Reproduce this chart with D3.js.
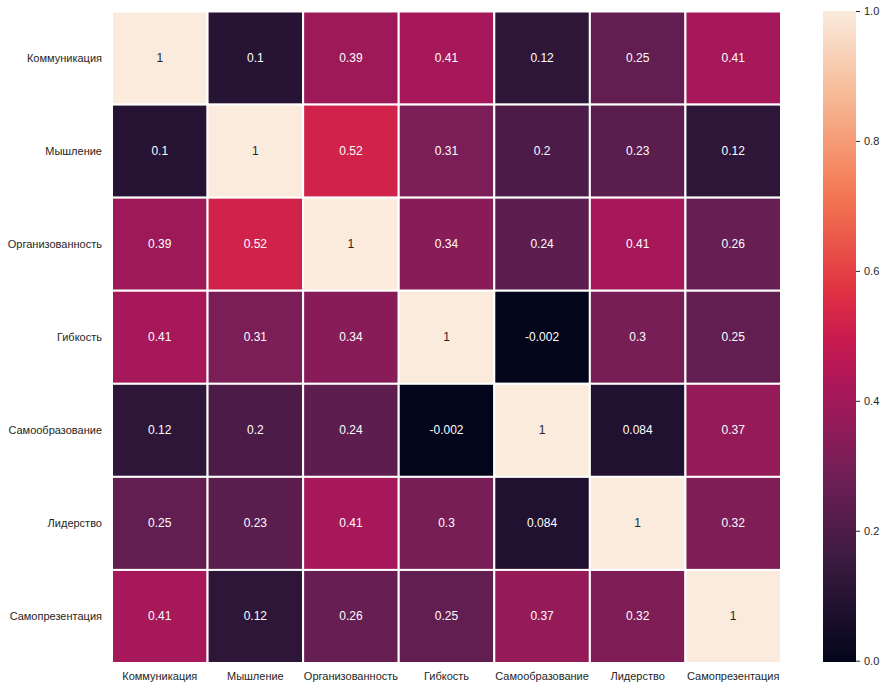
<!DOCTYPE html>
<html><head><meta charset="utf-8">
<script src="https://cdn.jsdelivr.net/npm/d3@7"></script>
<style>body{margin:0;background:#fff}svg{display:block}text{font-family:"Liberation Sans",Arial,sans-serif;}</style>
</head><body><svg id="c" width="887" height="690"></svg>
<script>
const categories = ["Коммуникация","Мышление","Организованность","Гибкость","Самообразование","Лидерство","Самопрезентация"];
const rowКоммуникация     = [1, 0.1, 0.39, 0.41, 0.12, 0.25, 0.41];
const rowМышление         = [0.1, 1, 0.52, 0.31, 0.2, 0.23, 0.12];
const rowОрганизованность = [0.39, 0.52, 1, 0.34, 0.24, 0.41, 0.26];
const rowГибкость         = [0.41, 0.31, 0.34, 1, -0.002, 0.3, 0.25];
const rowСамообразование  = [0.12, 0.2, 0.24, -0.002, 1, 0.084, 0.37];
const rowЛидерство        = [0.25, 0.23, 0.41, 0.3, 0.084, 1, 0.32];
const rowСамопрезентация  = [0.41, 0.12, 0.26, 0.25, 0.37, 0.32, 1];
const matrix = [rowКоммуникация,rowМышление,rowОрганизованность,rowГибкость,rowСамообразование,rowЛидерство,rowСамопрезентация];
const colorbarTicks = [0.0, 0.2, 0.4, 0.6, 0.8, 1.0];
const vmin = -0.002, vmax = 1;

// rocket colormap stops
const rocketPos   = [0, 1/7, 2/7, 3/7, 0.5, 4/7, 5/7, 6/7, 1];
const rocketStops = ["#03051a","#35193e","#701f57","#ad1759","#cb1b4f","#e13342","#f37651","#f6b48f","#faebdd"];
const rocket = d3.scaleLinear().domain(rocketPos).range(rocketStops).interpolate(d3.interpolateRgb).clamp(true);
const color = v => rocket((v - vmin)/(vmax - vmin));

const svg = d3.select("#c");
const L=112, R=781, T=11.5, B=663;
const x = d3.scaleBand().domain(categories).range([L,R]);
const y = d3.scaleBand().domain(categories).range([T,B]);
const fmt0 = d3.format(".2~g");
const fmt = v => fmt0(v).replace("\u2212","-");

const cells = [];
matrix.forEach((row,i)=>row.forEach((v,j)=>cells.push({r:categories[i],c:categories[j],v})));
const g = svg.append("g");
g.selectAll("rect").data(cells).join("rect")
  .attr("x",d=>x(d.c)).attr("y",d=>y(d.r))
  .attr("width",x.bandwidth()).attr("height",y.bandwidth())
  .attr("fill",d=>color(d.v)).attr("stroke","#fff").attr("stroke-width",2);
g.selectAll("text").data(cells).join("text")
  .attr("x",d=>x(d.c)+x.bandwidth()/2).attr("y",d=>y(d.r)+y.bandwidth()/2)
  .attr("text-anchor","middle").attr("dominant-baseline","central")
  .attr("font-size",12)
  .attr("fill",d=>((d.v-vmin)/(vmax-vmin))>0.6?"#262626":"#ffffff")
  .text(d=>fmt(d.v));

// axes
const xa = svg.append("g").attr("transform",`translate(0,${B})`).call(d3.axisBottom(x).tickSize(0).tickPadding(9));
const ya = svg.append("g").attr("transform",`translate(${L},0)`).call(d3.axisLeft(y).tickSize(0).tickPadding(10));
[xa,ya].forEach(a=>{a.select(".domain").remove();a.selectAll("text").attr("font-size",11).attr("fill","#262626").attr("font-family","'Liberation Sans',Arial,sans-serif");});

// colorbar
const cbL=823, cbR=856, cbT=11, cbB=662;
const defs = svg.append("defs");
const grad = defs.append("linearGradient").attr("id","cg").attr("x1",0).attr("y1",1).attr("x2",0).attr("y2",0);
d3.range(0,1.0001,0.02).forEach(t=>grad.append("stop").attr("offset",t).attr("stop-color",rocket(t)));
svg.append("rect").attr("x",cbL).attr("y",cbT).attr("width",cbR-cbL).attr("height",cbB-cbT).attr("fill","url(#cg)");
const cy = d3.scaleLinear().domain([vmin,vmax]).range([cbB,cbT]);
const ca = svg.append("g").attr("transform",`translate(${cbR},0)`).call(d3.axisRight(cy).tickValues(colorbarTicks).tickFormat(d3.format(".1f")).tickSize(4).tickPadding(4));
ca.select(".domain").remove();
ca.selectAll("line").attr("stroke","#262626");
ca.selectAll("text").attr("font-size",11).attr("fill","#262626").attr("font-family","'Liberation Sans',Arial,sans-serif");
</script></body></html>
